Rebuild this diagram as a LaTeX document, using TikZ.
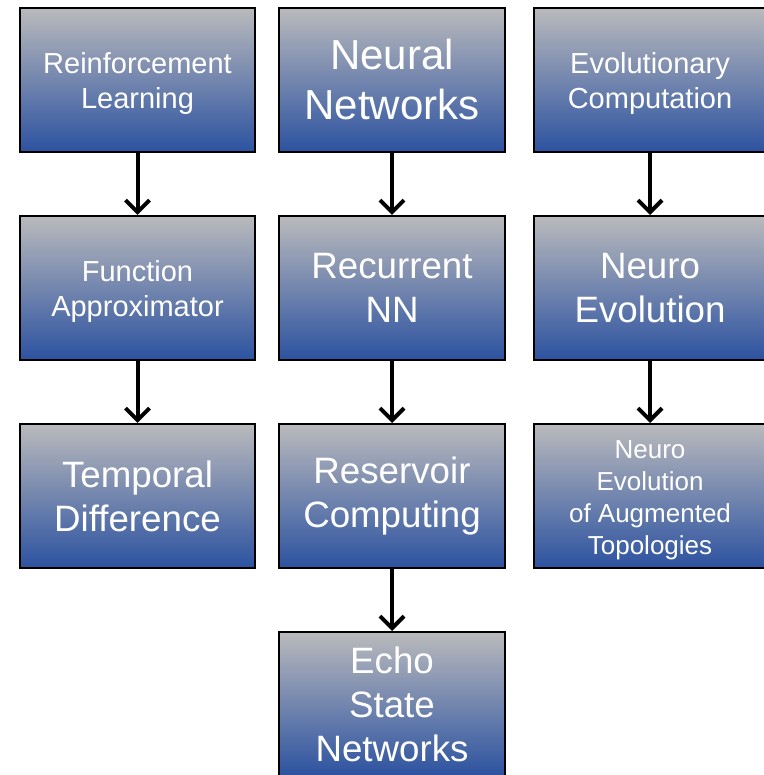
\documentclass[tikz,border=0pt]{standalone}
\usepackage{fontspec}
\setmainfont{Liberation Sans}
\usetikzlibrary{arrows.meta}
\definecolor{topgray}{RGB}{186,186,188}
\definecolor{midc}{RGB}{156,160,180}
\definecolor{botblue}{RGB}{44,82,160}
\newcommand{\lowtext}[1]{\raisebox{-4pt}[\height][\depth]{\begin{tabular}{@{}c@{}}#1\end{tabular}}}
\tikzset{
  box/.style={draw=black, line width=2pt, top color=topgray, middle color=midc, bottom color=botblue,
    minimum height=144pt, inner sep=0pt, text=white, align=center},
  colA/.style={box, minimum width=235pt},
  colB/.style={box, minimum width=226pt},
  colC/.style={box, minimum width=232pt},
  small/.style={font=\fontsize{29}{35}\selectfont},
  med/.style={font=\fontsize{36.7}{44}\selectfont},
  big/.style={font=\fontsize{42}{50}\selectfont},
  tiny/.style={font=\fontsize{26}{32}\selectfont},
  arr/.style={line width=4pt, -{Straight Barb[length=12pt,width=24pt]}}
}
\begin{document}
\begin{tikzpicture}[x=1pt,y=1pt]
\useasboundingbox (0,0) rectangle (763,775);
\node[colA, small] (rl) at (137.5,695) {\lowtext{Reinforcement\\Learning}};
\node[colB, big] (nn) at (392,695) {Neural\\Networks};
\node[colC, small] (ec) at (650,695) {\lowtext{Evolutionary\\Computation}};
\node[colA, small] (fa) at (137.5,487) {\lowtext{Function\\Approximator}};
\node[colB, med] (rnn) at (392,487) {Recurrent\\NN};
\node[colC, med] (ne) at (650,487) {Neuro\\Evolution};
\node[colA, med] (td) at (137.5,279) {Temporal\\Difference};
\node[colB, med] (rc) at (392,279) {Reservoir\\Computing};
\node[colC, tiny] (neat) at (650,279) {\lowtext{Neuro\\Evolution\\of Augmented\\Topologies}};
\node[colB, med] (esn) at (392,71) {Echo\\State\\Networks};
\draw[arr] (rl) -- (fa);
\draw[arr] (fa) -- (td);
\draw[arr] (nn) -- (rnn);
\draw[arr] (rnn) -- (rc);
\draw[arr] (rc) -- (esn);
\draw[arr] (ec) -- (ne);
\draw[arr] (ne) -- (neat);
\end{tikzpicture}
\end{document}
